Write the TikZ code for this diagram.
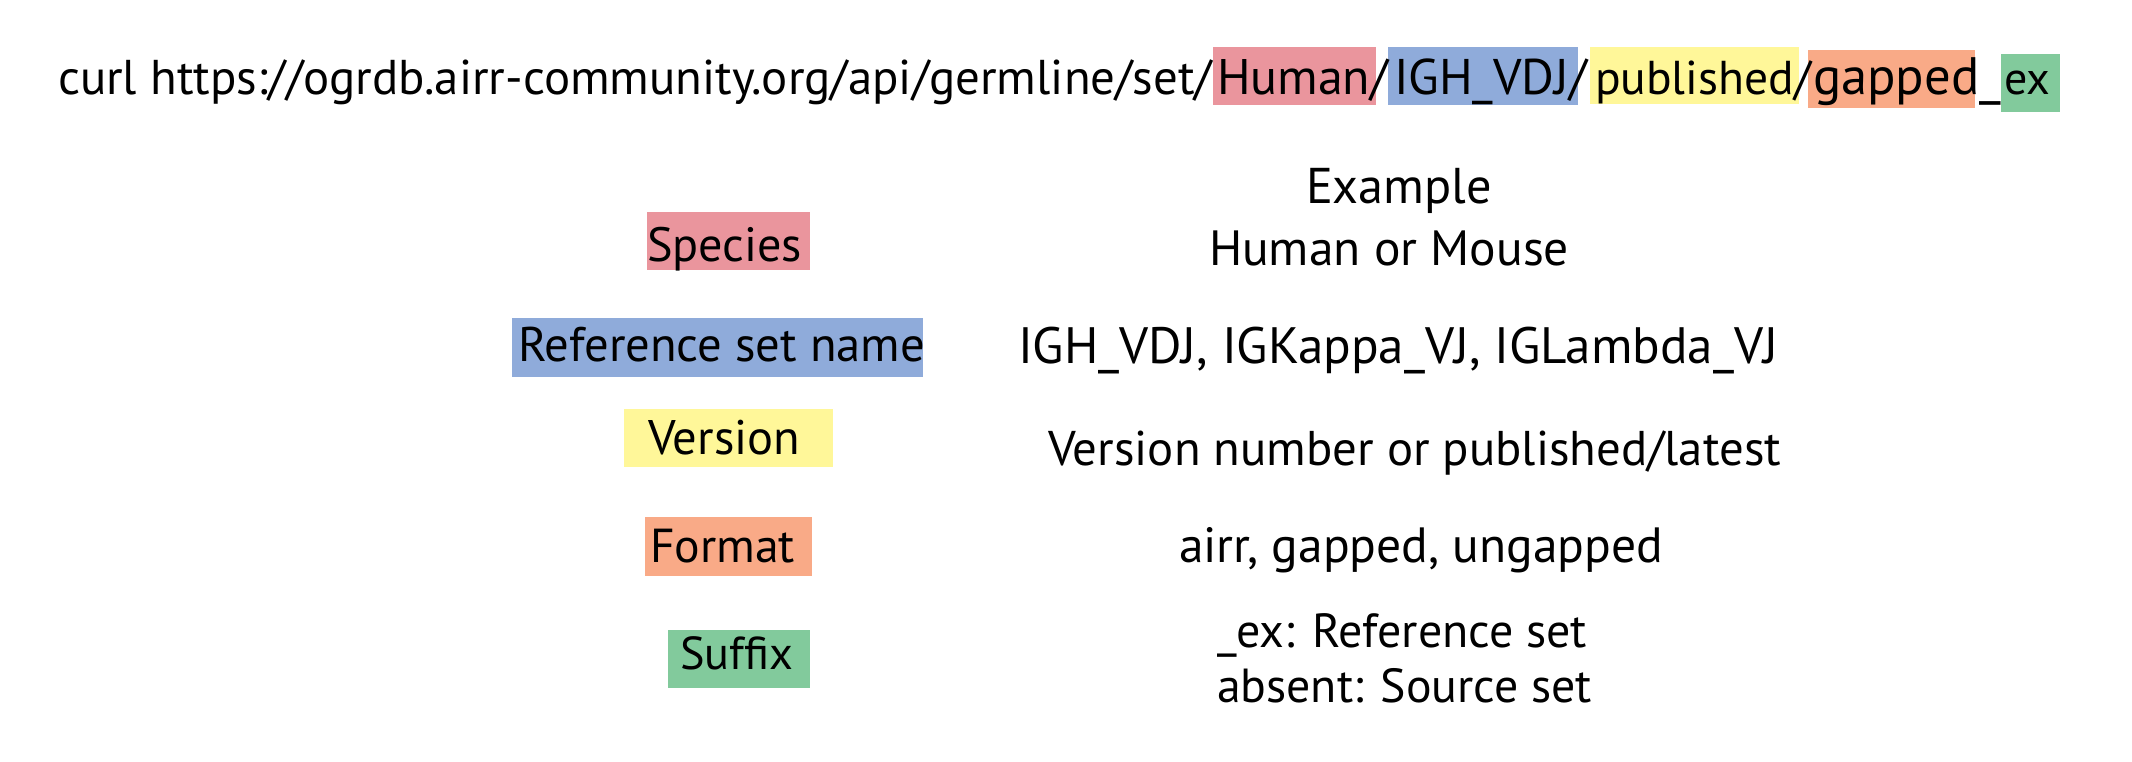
\documentclass[tikz,border=0pt]{standalone}
\usepackage{fontspec}
\setmainfont{PT Sans}
\usepackage{graphicx}
\definecolor{pinkc}{HTML}{EA959D}
\definecolor{bluec}{HTML}{8FABDA}
\definecolor{yellowc}{HTML}{FFF799}
\definecolor{orangec}{HTML}{F9AA87}
\definecolor{greenc}{HTML}{82CA9C}
\newcommand\fitw[2]{\resizebox{#1pt}{!}{#2}}
\tikzset{
  txt/.style={anchor=base west, inner sep=0pt, outer sep=0pt, font=\fontsize{46}{50}\selectfont},
}
\begin{document}
\begin{tikzpicture}[x=1pt,y=-1pt]
\useasboundingbox[fill=white] (0,0) rectangle (2132,761);
% top line boxes
\fill[pinkc]   (1213,47) rectangle (1376,105);
\fill[bluec]   (1388,47) rectangle (1578,105);
\fill[yellowc] (1590,47) rectangle (1799,104);
\fill[orangec] (1808,50) rectangle (1975,108);
\fill[greenc]  (2001,54) rectangle (2060,112);
% top line text
\node[txt] (pre) at (58,94) {\fitw{1154}{curl https://ogrdb.airr-community.org/api/germline/set/}};
\node[txt] (hum) at (1217,94) {\fitw{171}{Human/}};
\node[txt] (igh) at (1394,94) {\fitw{193}{IGH\_VDJ/}};
\node[txt] (pub) at (1595,94) {\fitw{216}{published/}};
\node[txt] (gap) at (1813,94) {\fitw{188}{gapped\_}};
\node[txt] (ex) at (2004,94) {\fitw{46}{ex}};
% left labels boxes
\fill[pinkc]   (647,212) rectangle (810,270);
\fill[bluec]   (512,318) rectangle (923,377);
\fill[yellowc] (624,409) rectangle (833,467);
\fill[orangec] (645,517) rectangle (812,576);
\fill[greenc]  (668,630) rectangle (810,688);
% left labels
\node[txt] (species) at (647,261) {\fitw{155}{Species}};
\node[txt] (refset) at (518,361) {\fitw{407}{Reference set name}};
\node[txt] (version) at (648,454) {\fitw{152}{Version}};
\node[txt] (format) at (650,562) {\fitw{145}{Format}};
\node[txt] (suffix) at (680,669) {\fitw{113}{Suffix}};
% right column
\node[txt] (example) at (1306,203) {\fitw{186}{Example}};
\node[txt] (exsp) at (1209,265) {\fitw{360}{Human or Mouse}};
\node[txt] (exref) at (1018,363) {\fitw{760}{IGH\_VDJ, IGKappa\_VJ, IGLambda\_VJ}};
\node[txt] (exver) at (1048,465) {\fitw{733}{Version number or published/latest}};
\node[txt] (exfmt) at (1179,562) {\fitw{484}{airr, gapped, ungapped}};
\node[txt] (exsuf1) at (1217,647) {\fitw{370}{\_ex: Reference set}};
\node[txt] (exsuf2) at (1217,702) {\fitw{375}{absent: Source set}};
\end{tikzpicture}
\end{document}
